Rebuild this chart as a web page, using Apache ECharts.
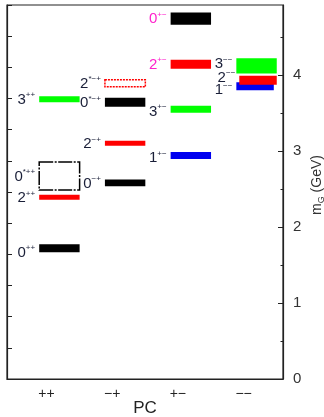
<!DOCTYPE html>
<html>
<head>
<meta charset="utf-8">
<script src="https://cdn.jsdelivr.net/npm/echarts@6/dist/echarts.min.js"></script>
<style>
html, body { margin: 0; padding: 0; background: #fff; }
#main { width: 324px; height: 417px; }
</style>
</head>
<body>
<div id="main"></div>
<script>
/* PC columns on the x axis */
var pcLabels = ['++', '\u2212+', '+\u2212', '\u2212\u2212']

/* glueball states: spin, superscript, PC column, mass (GeV), error (GeV) */
var stateJ = ['0', '2', '0', '3', '0', '2', '0', '2', '1', '3', '2', '0', '1', '2', '3']
var stateSup = ['++', '++', '*++', '++',
    '\u2212+', '\u2212+', '*\u2212+', '*\u2212+',
    '+\u2212', '+\u2212', '+\u2212', '+\u2212',
    '\u2212\u2212', '\u2212\u2212', '\u2212\u2212']
var statePC = [0, 0, 0, 0, 1, 1, 1, 1, 2, 2, 2, 2, 3, 3, 3]
var stateMass = [1.72, 2.39, 2.67, 3.68, 2.58, 3.10, 3.64, 3.89, 2.94, 3.55, 4.14, 4.74, 3.85, 3.93, 4.12]
var stateErr = [0.053, 0.033, 0.185, 0.04, 0.046, 0.033, 0.06, 0.046, 0.046, 0.046, 0.06, 0.08, 0.053, 0.06, 0.1]

/* right axis ticks */
var massTicks = [0, 1, 2, 3, 4]
var massMinorTicks = [0.5, 1.5, 2.5, 3.5, 4.5]

// colour by spin
var spinColor = { '0': '#000000', '1': '#0000f0', '2': '#ff0000', '3': '#00ff00' }
var exoticColor = '#ff22cc'
var labelColor = '#1a1f38'
var fontName = 'Liberation Sans, Arial, sans-serif'

// states drawn as open dotted boxes
var hollowStates = { 2: [14, 1.5, 2, 1.5], 7: [2, 1] }
// little label nudges (px) so the crowded ones don't sit on each other
var labelShift = { 0: 4, 9: 2, 8: 2, 12: 3, 13: -3, 14: -2 }
// bar ends differ a bit in the -- column
var barEndShift = { 12: [0, -0.045], 13: [0.045, 0] }

var barFrom = -0.11
var barTo = 0.505

var seriesData = []
for (var i = 0; i < stateMass.length; i++) {
    seriesData.push([statePC[i], stateMass[i], stateErr[i], i])
}

function renderItem (params, api) {
    var idx = api.value(3)
    var pc = api.value(0)
    var m = api.value(1)
    var e = api.value(2)
    var sh = barEndShift[idx] || [0, 0]
    var p0 = api.coord([pc + barFrom + sh[0], m + e])
    var p1 = api.coord([pc + barTo + sh[1], m - e])
    var j = stateJ[idx]
    var sup = stateSup[idx]
    var col = spinColor[j]
    var shape = { x: p0[0], y: p0[1], width: p1[0] - p0[0], height: p1[1] - p0[1] }
    var rect
    if (hollowStates[idx]) {
        rect = {
            type: 'rect',
            shape: shape,
            style: { fill: 'none', stroke: col, lineWidth: 1.5, lineDash: hollowStates[idx] }
        }
    } else {
        rect = { type: 'rect', shape: shape, style: { fill: col } }
    }
    var lc = labelColor
    if (statePC[idx] === 2 && (j === '0' || j === '2')) {
        lc = exoticColor
    }
    var cy = (p0[1] + p1[1]) / 2 + (labelShift[idx] || 0)
    var txt = {
        type: 'text',
        x: p0[0] - 4,
        y: cy,
        style: {
            text: '{d|' + j + '}{s|' + sup + '}',
            align: 'right',
            verticalAlign: 'middle',
            fill: lc,
            rich: {
                d: { fontSize: 15, fontFamily: fontName, fill: lc, lineHeight: 16, verticalAlign: 'bottom' },
                s: { fontSize: 8, fontFamily: fontName, fill: lc, lineHeight: 16, verticalAlign: 'top' }
            }
        }
    }
    return { type: 'group', children: [rect, txt] }
}

var myChart = echarts.init(document.getElementById('main'))
var option = {
    animation: false,
    backgroundColor: '#fff',
    grid: {
        left: 7, right: 41, top: 5, bottom: 38,
        outerBoundsMode: 'none',
        show: true, borderColor: '#222', borderWidth: 1.2
    },
    xAxis: {
        type: 'value',
        min: -0.6,
        max: 3.6,
        splitLine: { show: false },
        axisTick: { show: false },
        axisLine: { onZero: false, lineStyle: { color: '#222', width: 1.2 } },
        axisLabel: {
            customValues: [0, 1, 2, 3],
            formatter: function (v) { return pcLabels[Math.round(v)] },
            fontSize: 14, color: '#222', margin: 8, fontFamily: fontName
        },
        name: 'PC',
        nameLocation: 'middle',
        nameGap: 21,
        nameMoveOverlap: false,
        nameTextStyle: { fontSize: 17, color: '#222', fontFamily: fontName }
    },
    yAxis: [{
        type: 'value',
        position: 'left',
        min: 0,
        max: 6,
        interval: 0.5,
        splitLine: { show: false },
        axisLine: { show: true, onZero: false, lineStyle: { color: '#222', width: 1.2 } },
        axisTick: { inside: true, length: 5, lineStyle: { color: '#222' } },
        axisLabel: { show: false }
    }, {
        type: 'value',
        position: 'right',
        min: 0,
        max: 4.92,
        splitLine: { show: false },
        axisLine: { show: true, onZero: false, lineStyle: { color: '#222', width: 1.2 } },
        axisTick: { inside: true, length: 5, customValues: massTicks, lineStyle: { color: '#222' } },
        axisLabel: { customValues: massTicks, fontSize: 15, color: '#333', margin: 10, fontFamily: fontName },
        name: '{m|m}{g|G}{u| (GeV)}',
        nameLocation: 'middle',
        nameRotate: 90,
        nameGap: 25,
        nameMoveOverlap: false,
        nameTextStyle: {
            padding: [0, 0, 0, 14],
            rich: {
                m: { fontSize: 14, color: '#333', fontFamily: fontName, lineHeight: 18, verticalAlign: 'middle' },
                g: { fontSize: 9, color: '#333', fontFamily: fontName, lineHeight: 18, verticalAlign: 'bottom' },
                u: { fontSize: 14, color: '#333', fontFamily: fontName, lineHeight: 18, verticalAlign: 'middle' }
            }
        }
    }, {
        type: 'value',
        position: 'right',
        min: 0,
        max: 4.92,
        splitLine: { show: false },
        axisLine: { show: false, onZero: false },
        axisTick: { inside: true, length: 2.5, customValues: massMinorTicks, lineStyle: { color: '#222' } },
        axisLabel: { show: false }
    }],
    series: [{
        type: 'custom',
        xAxisIndex: 0,
        yAxisIndex: 1,
        renderItem: renderItem,
        encode: { x: 0, y: 1 },
        data: seriesData
    }]
}
myChart.setOption(option)
</script>
</body>
</html>
